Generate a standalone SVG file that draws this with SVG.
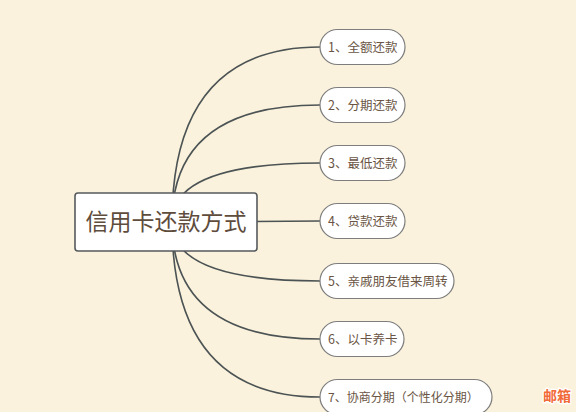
<svg xmlns="http://www.w3.org/2000/svg" width="576" height="412" viewBox="0 0 576 412">
<style>
.bg{fill:#faf2dc}
.conn{fill:none;stroke:#4c5354;stroke-width:1.6}
.leaf rect{fill:#ffffff;stroke:#7d7d7d;stroke-width:1.2}
.leaf text{font-family:"Noto Sans CJK SC","Noto Sans",sans-serif;font-size:12.5px;fill:#6a5544}
.root rect{fill:#ffffff;stroke:#555a5c;stroke-width:1.6}
.root text{font-family:"Noto Sans CJK SC","Noto Sans",sans-serif;font-size:23px;fill:#5e4c3c}
.wm{font-family:"Noto Sans CJK SC",sans-serif;font-size:14px;font-weight:bold;fill:#f26a38;stroke:#ffffff;stroke-width:2.5;paint-order:stroke}
</style>
<rect class="bg" x="0" y="0" width="576" height="412"/>
<g id="connectors">
<path class="conn" d="M172,222 Q172,47 320,47"/>
<path class="conn" d="M172,222 Q172,105 320,105"/>
<path class="conn" d="M172,222 Q172,163 320,163"/>
<path class="conn" d="M172,222 L320,221"/>
<path class="conn" d="M172,222 Q172,281 320,281"/>
<path class="conn" d="M172,222 Q172,339 320,339"/>
<path class="conn" d="M172,222 Q172,397 320,397"/>
</g>
<g id="root" class="root">
<rect x="75" y="193" width="182" height="58" rx="3"/>
<text x="166" y="230" text-anchor="middle">信用卡还款方式</text>
</g>
<g id="n1" class="leaf"><rect x="320" y="29.5" width="85" height="35" rx="17.5"/><text x="328" y="51.5">1、全额还款</text></g>
<g id="n2" class="leaf"><rect x="320" y="87.5" width="85" height="35" rx="17.5"/><text x="328" y="109.5">2、分期还款</text></g>
<g id="n3" class="leaf"><rect x="320" y="145.5" width="85" height="35" rx="17.5"/><text x="328" y="167.5">3、最低还款</text></g>
<g id="n4" class="leaf"><rect x="320" y="203.5" width="85" height="35" rx="17.5"/><text x="328" y="225.5">4、贷款还款</text></g>
<g id="n5" class="leaf"><rect x="320" y="263.5" width="134" height="35" rx="17.5"/><text x="328" y="285.5">5、亲戚朋友借来周转</text></g>
<g id="n6" class="leaf"><rect x="320" y="321.5" width="84" height="35" rx="17.5"/><text x="328" y="343.5">6、以卡养卡</text></g>
<g id="n7" class="leaf"><rect x="320" y="379.5" width="172" height="35" rx="17.5"/><text x="328" y="401.5" style="font-size:12px">7、协商分期（个性化分期）</text></g>
<text class="wm" x="543" y="401">邮箱</text>
</svg>
